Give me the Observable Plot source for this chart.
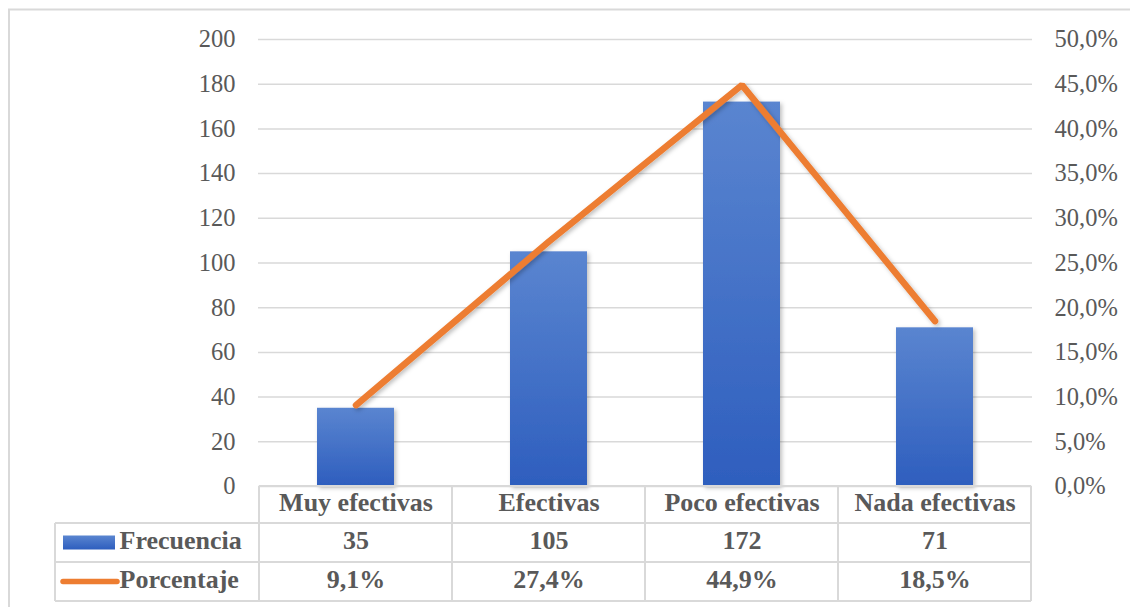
<!DOCTYPE html>
<html>
<head>
<meta charset="utf-8">
<script src="https://cdn.jsdelivr.net/npm/d3@7"></script>
<script src="https://cdn.jsdelivr.net/npm/@observablehq/plot@0.6"></script>
<style>
  html, body { margin: 0; padding: 0; background: #fff; }
  svg { display: block; }
  svg text { font-family: "Liberation Serif", "Times New Roman", serif !important; }
</style>
</head>
<body>
<div id="chart"></div>
<script>
// ---- data ----
const categories = ["Muy efectivas", "Efectivas", "Poco efectivas", "Nada efectivas"];
const frecuencia = [35, 105, 172, 71];
const porcentaje = [0.091, 0.274, 0.449, 0.185];
const seriesNames = ["Frecuencia", "Porcentaje"];
const leftTicks = [0, 20, 40, 60, 80, 100, 120, 140, 160, 180, 200];
const rightTicks = [0, 0.05, 0.10, 0.15, 0.20, 0.25, 0.30, 0.35, 0.40, 0.45, 0.50];

const pctToCount = 200 / 0.5; // right axis 50% aligns with left axis 200
const fmtPct = d => (d * 100).toFixed(1).replace(".", ",") + "%";

const rows = categories.map((c, i) => ({cat: c, f: frecuencia[i], p: porcentaje[i]}));

const gray = "#595959";
const lineGray = "#d9d9d9";
const FONT = "Liberation Serif";
const AX = 24.5;   // axis font size
const TB = 26;     // table font size

const chart = Plot.plot({
  width: 1130,
  height: 607,
  marginLeft: 258,
  marginRight: 98,
  marginTop: 39,
  marginBottom: 121,
  style: {fontFamily: FONT, fontSize: AX + "px", color: gray, background: "#fff", overflow: "visible"},
  x: {domain: categories, paddingInner: 0.6, paddingOuter: 0.3, axis: null, label: null},
  y: {domain: [0, 200], axis: null, label: null},
  marks: [
    Plot.gridY(leftTicks, {stroke: lineGray, strokeOpacity: 1, strokeWidth: 1.5}),
    Plot.axisY(leftTicks, {anchor: "left", label: null, tickSize: 0, tickPadding: 23, fontSize: AX, fontFamily: FONT, fill: gray}),
    Plot.axisY(rightTicks, {anchor: "right", label: null, y: d => d * pctToCount, tickSize: 0, tickPadding: 22, tickFormat: fmtPct, fontSize: AX, fontFamily: FONT, fill: gray}),
    Plot.barY(rows, {x: "cat", y: "f", fill: "url(#barGrad)", className: "bars"}),
    Plot.line(rows, {x: "cat", y: d => d.p * pctToCount, stroke: "#ED7D31", strokeWidth: 6.5, strokeLinecap: "round", strokeLinejoin: "miter", className: "pline"}),
    // data table text
    Plot.text(rows, {x: "cat", text: "cat", frameAnchor: "bottom", dy: 24, fontWeight: "bold", fontSize: TB, fontFamily: FONT, fill: gray}),
    Plot.text(rows, {x: "cat", text: d => String(d.f), frameAnchor: "bottom", dy: 62, fontWeight: "bold", fontSize: TB, fontFamily: FONT, fill: gray}),
    Plot.text(rows, {x: "cat", text: d => fmtPct(d.p), frameAnchor: "bottom", dy: 101, fontWeight: "bold", fontSize: TB, fontFamily: FONT, fill: gray}),
    Plot.text([seriesNames[0]], {text: d => d, frameAnchor: "bottom-left", dx: -139, dy: 62, textAnchor: "start", fontWeight: "bold", fontSize: TB, fontFamily: FONT, fill: gray}),
    Plot.text([seriesNames[1]], {text: d => d, frameAnchor: "bottom-left", dx: -139, dy: 101, textAnchor: "start", fontWeight: "bold", fontSize: TB, fontFamily: FONT, fill: gray})
  ]
});

document.getElementById("chart").appendChild(chart);

// ---- decorations: gradient, shadow, table lines, legend keys, frame ----
const svg = d3.select(chart);
const defs = svg.insert("defs", ":first-child");
const grad = defs.append("linearGradient").attr("id", "barGrad").attr("x1", 0).attr("y1", 0).attr("x2", 0).attr("y2", 1);
grad.append("stop").attr("offset", "0%").attr("stop-color", "#5A85D0");
grad.append("stop").attr("offset", "100%").attr("stop-color", "#2E5EBE");
const f = defs.append("filter").attr("id", "shadow").attr("x", "-10%").attr("y", "-10%").attr("width", "130%").attr("height", "130%");
f.append("feDropShadow").attr("dx", 2).attr("dy", 2).attr("stdDeviation", 2).attr("flood-color", "#000").attr("flood-opacity", 0.25);
svg.selectAll(".bars rect").attr("filter", "url(#shadow)");
svg.selectAll(".pline path").attr("filter", "url(#shadow)");

const xs = chart.scale("x");
const ys = chart.scale("y");
const left0 = xs.apply(categories[0]) + xs.bandwidth / 2 - xs.step / 2;
const right0 = xs.apply(categories[categories.length - 1]) + xs.bandwidth / 2 + xs.step / 2;
const yTop = ys.apply(0);
const rowH = [37, 39, 39];
const y1 = yTop + rowH[0], y2 = y1 + rowH[1], y3 = y2 + rowH[2];
const labelLeft = left0 - 204;

const g = svg.append("g").attr("stroke", lineGray).attr("stroke-width", 2).attr("fill", "none");
const hl = (xa, xb, y) => g.append("line").attr("x1", xa).attr("x2", xb).attr("y1", y).attr("y2", y);
const vl = (x, ya, yb) => g.append("line").attr("x1", x).attr("x2", x).attr("y1", ya).attr("y2", yb);
hl(left0, right0, yTop);
hl(labelLeft, right0, y1);
hl(labelLeft, right0, y2);
hl(labelLeft, right0, y3);
vl(labelLeft, y1, y3);
categories.forEach(c => vl(xs.apply(c) + xs.bandwidth / 2 - xs.step / 2, yTop, y3));
vl(right0, yTop, y3);

// legend keys
svg.append("rect").attr("x", labelLeft + 8).attr("y", y1 + 12.5).attr("width", 52).attr("height", 14).attr("fill", "url(#barGrad)");
svg.append("line").attr("x1", labelLeft + 8).attr("x2", labelLeft + 62).attr("y1", y2 + 19.5).attr("y2", y2 + 19.5)
  .attr("stroke", "#ED7D31").attr("stroke-width", 5.5).attr("stroke-linecap", "round");

// outer chart frame
svg.append("path").attr("d", "M9,607 V9.5 H1130").attr("stroke", lineGray).attr("stroke-width", 2).attr("fill", "none");
</script>
</body>
</html>
